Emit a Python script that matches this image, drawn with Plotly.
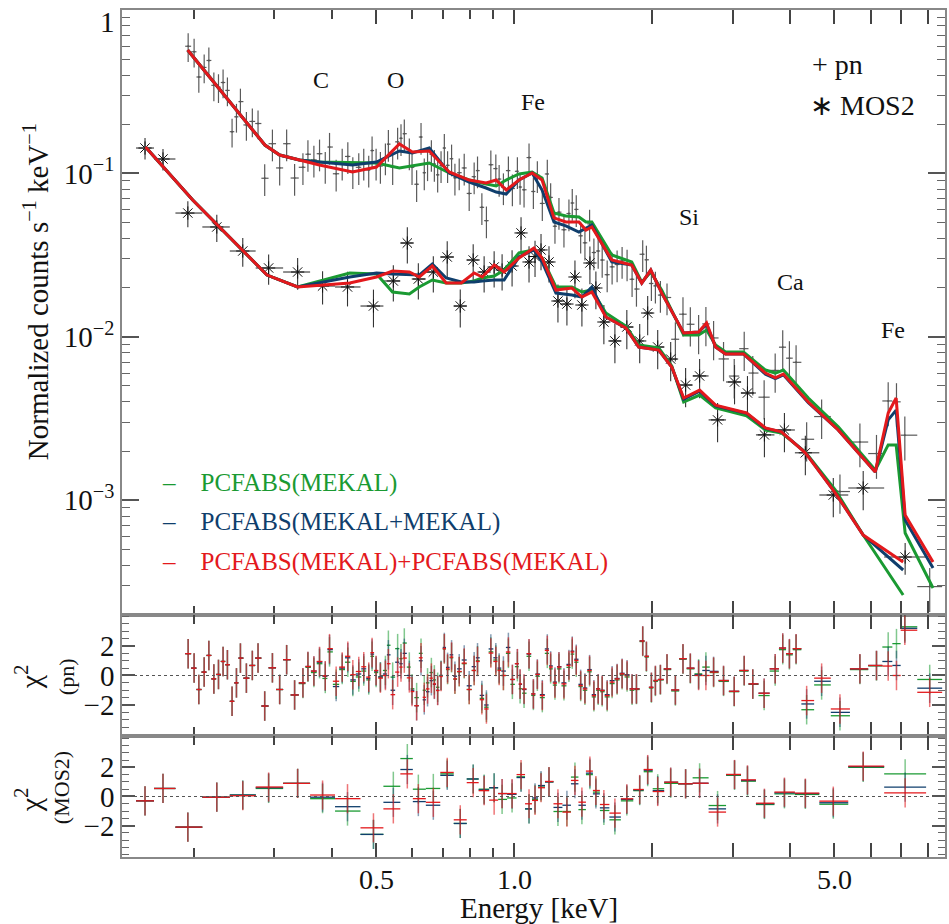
import numpy as np
import plotly.graph_objects as go

# ------------------------------------------------------------------ data
# pn spectrum (energy keV, normalized counts s^-1 keV^-1, relative error %)
pn_E = [0.1945, 0.2004, 0.2052, 0.2108, 0.2158, 0.2213, 0.2265, 0.2318, 0.2369, 0.2425,
        0.2479, 0.2529, 0.2606, 0.2685, 0.2763, 0.2857, 0.2970, 0.3080, 0.3190, 0.3320,
        0.3462, 0.3550, 0.3658, 0.3763, 0.3873, 0.3957, 0.4091, 0.4217, 0.4338, 0.4448,
        0.4583, 0.4699, 0.4818, 0.4900, 0.5000, 0.5109, 0.5239, 0.5318, 0.5434, 0.5571,
        0.5666, 0.5761, 0.5908, 0.5989, 0.6129, 0.6266, 0.6369, 0.6475, 0.6600, 0.6700,
        0.6812, 0.6929, 0.7044, 0.7160, 0.7305, 0.7429, 0.7591, 0.7784, 0.7981, 0.8183,
        0.8322, 0.8506, 0.8703, 0.8898, 0.9124, 0.9277, 0.9478, 0.9718, 0.9915, 1.0167,
        1.0306, 1.0514, 1.0780, 1.1018, 1.1240, 1.1524, 1.1816, 1.2017, 1.2280, 1.2529,
        1.2847, 1.3173, 1.3395, 1.3667, 1.3972, 1.4275, 1.4613, 1.4932, 1.5258, 1.5568,
        1.5963, 1.6364, 1.6780, 1.7206, 1.7642, 1.8090, 1.8492, 1.9083, 1.9441, 1.9934,
        2.0339, 2.0856, 2.1560, 2.2486, 2.3362, 2.4240, 2.5270, 2.6213, 2.7245, 2.8642,
        3.0221, 3.1775, 3.3174, 3.5121, 3.7124, 3.8557, 3.9875, 4.1235, 4.3482, 4.6881,
        5.1404, 5.6822, 6.1757, 6.5497, 6.8284, 7.1209, 8.0688]
pn_rate = [0.600, 0.555, 0.389, 0.445, 0.491, 0.346, 0.337, 0.360, 0.322, 0.180,
           0.222, 0.275, 0.198, 0.208, 0.202, 0.0934, 0.152, 0.108, 0.152, 0.0937,
           0.109, 0.131, 0.121, 0.132, 0.111, 0.145, 0.0995, 0.116, 0.127, 0.103,
           0.109, 0.116, 0.105, 0.138, 0.116, 0.111, 0.125, 0.151, 0.109, 0.156,
           0.164, 0.175, 0.134, 0.109, 0.0858, 0.167, 0.101, 0.115, 0.131, 0.114,
           0.098, 0.112, 0.143, 0.112, 0.123, 0.094, 0.101, 0.108, 0.0754, 0.0955,
           0.104, 0.062, 0.0514, 0.113, 0.107, 0.0923, 0.082, 0.104, 0.0808, 0.103,
           0.0825, 0.0794, 0.125, 0.0775, 0.0972, 0.0655, 0.0992, 0.0713, 0.0475, 0.0579,
           0.0452, 0.0568, 0.0659, 0.0602, 0.0415, 0.0376, 0.0491, 0.0328, 0.0335, 0.0295,
           0.0240, 0.0268, 0.0277, 0.0291, 0.0280, 0.0225, 0.0196, 0.0320, 0.0296, 0.0212,
           0.0205, 0.0180, 0.0174, 0.00966, 0.01375, 0.01193, 0.0107, 0.0120, 0.00984, 0.00732,
           0.00575, 0.00846, 0.00600, 0.00427, 0.00623, 0.00864, 0.00740, 0.00698, 0.00236, 0.00325,
           0.00113, 0.00227, 0.00193, 0.00405, 0.00400, 0.00250, 0.000296]
pn_err_pct = [20, 20, 20, 20, 20, 20, 20, 20, 20, 20,
              20, 20, 20, 20, 20, 22, 22, 22, 22, 22,
              22, 22, 22, 22, 22, 22, 22, 22, 22, 22,
              22, 22, 22, 22, 22, 22, 22, 22, 22, 22,
              22, 22, 22, 22, 22, 22, 22, 22, 22, 22,
              22, 22, 22, 22, 22, 22, 22, 22, 22, 22,
              22, 22, 22, 22, 22, 22, 22, 22, 22, 22,
              22, 22, 22, 22, 22, 22, 22, 22, 22, 22,
              22, 22, 22, 22, 22, 22, 22, 22, 22, 22,
              22, 22, 22, 22, 22, 22, 22, 22, 22, 22,
              22, 22, 22, 27, 27, 27, 27, 27, 27, 27,
              27, 27, 27, 27, 27, 27, 27, 27, 27, 27,
              27, 30, 30, 30, 30, 30, 30]

# pn residuals (chi) for the three models
pn_chi_green = [1.48, 0.5, -0.95, 0.23, 1.36, -0.23, 0.07, 0.95, 0.73, -1.75,
                -0.5, 1.18, -0.18, 0.68, 1.18, -2.07, 0.52, -0.95, 1.07, -1.32,
                -0.55, 0.55, 0.2, 0.8, -0.2, 1.6, -0.6, 0.4, 0.9, -0.4,
                -0.1, 0.3, -0.3, 1.3, 0.2, -0.1, 0.34, 2.05, -0.11, 1.82,
                1.14, 2.2, 0.57, -0.9, -1.5, 1.5, -1.0, -0.5, 0.2, -0.3,
                -0.8, 0.0, 1.8, 0.4, 1.2, -0.25, 0.25, 0.8, -0.95, 0.34,
                1.0, -1.55, -2.15, 1.6, 1.05, 0.4, 0.0, 1.5, -0.6, 0.6,
                -0.9, -1.2, 1.3, -1.35, -0.05, -1.5, 1.5, 0.45, -0.65, 0.45,
                -0.7, 0.55, 1.45, 0.9, -0.75, -1.0, 0.25, -1.45, -1.0, -1.1,
                -1.45, -0.55, -0.3, 0.05, -0.1, -1.0, -0.95, 2.3, 1.25, -0.85,
                -0.4, -0.3, 0.4, -1.05, 1.1, 0.45, 0.11, 0.57, 0.2, -0.4,
                -1.1, 0.3, -0.6, -1.36, 0.3, 1.75, 1.4, 1.75, -2.32, -0.64,
                -2.73, 0.4, 0.65, 1.93, 2.16, 3.3, -0.27]
pn_chi_blue = [1.48, 0.5, -0.95, 0.23, 1.36, -0.23, 0.07, 0.95, 0.73, -1.75,
               -0.5, 1.18, -0.18, 0.68, 1.18, -2.07, 0.52, -0.95, 1.07, -1.32,
               -0.5, 0.61, 0.3, 0.9, -0.05, 1.75, -0.75, 0.5, 1.2, -0.3,
               0.1, 0.45, -0.2, 1.45, 0.3, -0.1, 0.1, 1.4, -1.0, 0.9,
               0.8, 1.5, 0.0, -1.0, -2.05, 1.0, -1.65, -1.1, -0.35, -0.6,
               -1.0, 0.0, 1.9, 0.55, 1.4, -0.05, 0.45, 1.05, -0.7, 0.6,
               1.2, -1.35, -2.0, 1.8, 1.2, 0.5, 0.3, 1.9, -0.27, 0.8,
               -0.6, -0.95, 1.45, -1.25, 0.1, -1.3, 1.8, 0.65, -0.45, 0.6,
               -0.5, 0.75, 1.65, 1.1, -0.6, -0.85, 0.4, -1.3, -0.9, -1.0,
               -1.3, -0.35, -0.2, 0.15, 0.05, -0.9, -0.9, 2.35, 1.3, -0.8,
               -0.34, -0.27, 0.45, -0.98, 1.14, 0.5, 0.05, 0.34, 0.28, -0.34,
               -1.07, 0.34, -0.57, -1.2, 0.45, 1.86, 1.48, 1.82, -1.93, -0.39,
               -2.5, 0.45, 0.68, 0.95, 0.68, 3.2, -0.86]
pn_chi_red = [1.48, 0.5, -0.95, 0.23, 1.36, -0.23, 0.07, 0.95, 0.73, -1.75,
              -0.5, 1.18, -0.18, 0.68, 1.18, -2.07, 0.52, -0.95, 1.07, -1.32,
              -0.5, 0.61, 0.3, 0.95, -0.02, 1.82, -0.39, 0.57, 1.3, 0.05,
              0.27, 0.59, -0.11, 1.55, 0.34, -0.18, 0.0, 0.8, -1.3, 0.23,
              0.57, 1.18, -0.16, -1.09, -2.05, 1.2, -1.48, -0.91, -0.18, -0.57,
              -1.02, -0.07, 1.82, 0.45, 1.25, -0.23, 0.27, 0.84, -0.95, 0.34,
              0.95, -1.64, -2.27, 1.52, 0.95, 0.34, 0.0, 1.59, -0.27, 0.8,
              -0.57, -0.91, 1.48, -1.25, 0.07, -1.36, 1.7, 0.57, -0.52, 0.57,
              -0.57, 0.68, 1.59, 1.02, -0.68, -0.91, 0.34, -1.36, -0.91, -1.02,
              -1.36, -0.45, -0.23, 0.11, 0.0, -0.91, -0.91, 2.34, 1.3, -0.8,
              -0.34, -0.27, 0.45, -0.98, 1.14, 0.5, 0.0, 0.0, 0.23, -0.34,
              -1.07, 0.34, -0.57, -1.2, 0.45, 1.86, 1.48, 1.82, -1.7, -0.18,
              -2.27, 0.45, 0.68, 0.64, 0.0, 3.07, -1.14]

# MOS2 spectrum
mos_E = [0.1566, 0.1714, 0.1942, 0.2246, 0.2559, 0.2914, 0.3371, 0.3821, 0.4331, 0.4934,
         0.5452, 0.5849, 0.6182, 0.6665, 0.7147, 0.7631, 0.8143, 0.8603, 0.9047, 0.9416,
         0.9900, 1.0356, 1.0780, 1.1110, 1.1449, 1.1917, 1.2465, 1.3040, 1.3577, 1.4060,
         1.4637, 1.5083, 1.5700, 1.6595, 1.7620, 1.8796, 1.9565, 2.0576, 2.1962, 2.3674,
         2.5397, 2.7797, 3.0269, 3.2300, 3.5171, 3.8891, 4.3201, 4.9710, 5.7770, 7.1317]
mos_rate = [0.1430, 0.1225, 0.0572, 0.0470, 0.0335, 0.02637, 0.02492, 0.02046, 0.02018, 0.01543,
            0.02196, 0.0375, 0.02258, 0.02492, 0.03079, 0.01543, 0.02951, 0.02492, 0.02674, 0.02563,
            0.02712, 0.0432, 0.02870, 0.0310, 0.0340, 0.02870, 0.01656, 0.01587, 0.02323, 0.01565,
            0.02829, 0.01989, 0.01232, 0.00943, 0.01148, 0.00943, 0.01398, 0.00866, 0.00731, 0.00507,
            0.00576, 0.00310, 0.00529, 0.00453, 0.00251, 0.00269, 0.00195, 0.001076, 0.001188, 0.000449]
mos_err_pct = [15, 15, 18, 19, 20, 21, 22, 23, 24, 26,
               25, 25, 25, 25, 25, 26, 25, 25, 25, 25,
               25, 25, 25, 25, 25, 25, 26, 26, 26, 26,
               26, 26, 27, 27, 27, 27, 27, 27, 27, 27,
               27, 27, 27, 27, 27, 27, 27, 27, 27, 22]
mos_chi_green = [-0.3, 0.55, -2.1, -0.05, 0.1, 0.55, 0.9, -0.15, -1.0, -2.6,
                 0.7, 2.6, 0.5, 0.55, 1.55, -1.85, 1.2, 0.5, 0.6, -0.2,
                 -0.1, 1.35, -0.85, -0.2, 0.65, 1.0, -1.03, -1.03, 1.33, -0.9,
                 1.5, 0.3, -0.96, -1.6, -0.3, 0.4, 1.7, 0.53, 0.9, 0.87,
                 1.28, -0.62, 1.45, 1.05, -0.55, 0.18, 0.14, -0.53, 2.0, 1.55]
mos_chi_blue = [-0.3, 0.55, -2.1, -0.05, 0.1, 0.6, 0.9, -0.05, -0.7, -2.6,
                -0.4, 1.85, -0.35, -0.6, 1.45, -1.85, 1.2, 0.45, 0.6, 0.2,
                0.15, 1.3, -0.85, -0.1, 0.75, 1.0, -0.75, -0.6, 0.87, -0.6,
                1.6, 0.18, -0.78, -1.41, -0.2, 0.45, 1.8, 0.4, 0.98, 0.87,
                0.91, -0.85, 1.5, 1.1, -0.5, 0.25, 0.2, -0.43, 2.05, 0.64]
mos_chi_red = [-0.3, 0.55, -2.1, -0.05, 0.05, 0.65, 0.9, 0.1, -0.15, -2.15,
               -0.85, 1.55, -0.15, -0.4, 1.65, -1.6, 0.95, 0.4, -0.25, 0.2,
               0.2, 1.5, -0.5, -0.27, 0.6, 1.03, -0.5, -1.07, 1.1, -0.39,
               1.74, 0.41, -0.55, -1.14, -0.16, 0.48, 1.85, 0.34, 0.98, 0.87,
               0.91, -1.07, 1.51, 1.14, -0.46, 0.3, 0.23, -0.32, 2.08, 0.25]

# folded model curves (pn)
model_pn_E = [0.194, 0.286, 0.308, 0.340, 0.376, 0.444, 0.501, 0.562, 0.600, 0.653,
              0.722, 0.798, 0.869, 0.914, 0.961, 1.025, 1.095, 1.151, 1.222, 1.297,
              1.385, 1.435, 1.478, 1.634, 1.806, 1.899, 1.987, 2.100, 2.344, 2.527,
              2.630, 2.752, 2.893, 3.166, 3.535, 3.716, 3.868, 4.385, 5.096, 6.138,
              6.550, 6.817, 7.132, 8.204]
model_pn_green = [0.569, 0.1492, 0.1296, 0.1208, 0.1174, 0.1158, 0.1158, 0.1079, 0.1110, 0.1158,
                  0.1006, 0.0911, 0.0861, 0.0837, 0.0911, 0.0992, 0.1020, 0.0937, 0.0572, 0.0549,
                  0.0541, 0.0504, 0.0504, 0.0317, 0.0287, 0.0216, 0.0249, 0.0193, 0.01026, 0.01026,
                  0.0110, 0.00891, 0.00807, 0.00807, 0.00626, 0.00600, 0.00626, 0.00422, 0.00281, 0.00153,
                  0.00218, 0.00218, 0.000630, 0.000290]
model_pn_blue = [0.569, 0.1492, 0.1296, 0.1208, 0.1174, 0.1125, 0.1174, 0.1371, 0.1333, 0.1430,
                 0.1006, 0.0886, 0.0814, 0.0769, 0.0748, 0.0911, 0.1006, 0.0791, 0.0504, 0.0477,
                 0.0438, 0.0463, 0.0483, 0.0287, 0.0275, 0.0213, 0.0256, 0.0185, 0.01055, 0.01070,
                 0.01190, 0.00866, 0.00785, 0.00785, 0.00590, 0.00555, 0.00585, 0.00395, 0.00269, 0.00149,
                 0.00310, 0.00356, 0.000756, 0.000385]
model_pn_red = [0.569, 0.1492, 0.1296, 0.1208, 0.1125, 0.1020, 0.1094, 0.1513, 0.1352, 0.1371,
                0.1020, 0.0911, 0.0873, 0.0911, 0.0791, 0.0911, 0.1006, 0.0911, 0.0534, 0.0504,
                0.0504, 0.0450, 0.0470, 0.0295, 0.0275, 0.0213, 0.0256, 0.0185, 0.01055, 0.01070,
                0.01215, 0.00866, 0.00785, 0.00785, 0.00600, 0.00560, 0.00592, 0.00399, 0.00269, 0.00149,
                0.00342, 0.00422, 0.000811, 0.000418]

# folded model curves (MOS2)
model_mos_E = [0.157, 0.199, 0.289, 0.337, 0.438, 0.501, 0.543, 0.591, 0.621, 0.663,
               0.711, 0.767, 0.818, 0.852, 0.905, 0.951, 1.025, 1.105, 1.151, 1.234,
               1.337, 1.406, 1.478, 1.586, 1.753, 1.871, 2.068, 2.208, 2.344, 2.540,
               2.752, 3.215, 3.535, 3.830, 4.320, 5.020, 5.777, 7.061]
model_mos_green = [0.1450, 0.0687, 0.02388, 0.02018, 0.02458, 0.02424, 0.01880, 0.01828, 0.02018, 0.02227,
                   0.02135, 0.02135, 0.02196, 0.02290, 0.02356, 0.02563, 0.03258, 0.03398, 0.03036, 0.02018,
                   0.02018, 0.01880, 0.01934, 0.01398, 0.01164, 0.00891, 0.00854, 0.00663, 0.00399, 0.00440,
                   0.00367, 0.00328, 0.00269, 0.00258, 0.00197, 0.001155, 0.000612, 0.000263]
model_mos_blue = [0.1450, 0.0687, 0.02388, 0.02018, 0.02323, 0.02458, 0.02424, 0.02388, 0.02388, 0.02789,
                  0.02290, 0.02165, 0.02165, 0.02196, 0.02227, 0.02227, 0.03079, 0.03398, 0.02870, 0.01853,
                  0.01802, 0.01752, 0.02018, 0.01322, 0.01132, 0.00866, 0.00830, 0.00653, 0.00415, 0.00465,
                  0.00378, 0.00340, 0.00275, 0.00262, 0.00196, 0.00111, 0.000612, 0.000374]
model_mos_red = [0.1450, 0.0687, 0.02388, 0.02018, 0.02135, 0.02323, 0.02527, 0.02492, 0.02323, 0.02712,
                 0.02135, 0.02135, 0.02458, 0.02323, 0.02750, 0.02492, 0.03036, 0.03496, 0.03036, 0.01934,
                 0.01989, 0.01752, 0.01880, 0.01322, 0.01132, 0.00866, 0.00830, 0.00653, 0.00422, 0.00472,
                 0.00382, 0.00342, 0.00277, 0.00262, 0.00195, 0.00111, 0.000612, 0.000418]

model_names = ["PCFABS(MEKAL)", "PCFABS(MEKAL+MEKAL)", "PCFABS(MEKAL)+PCFABS(MEKAL)"]
line_labels = ["C", "O", "Fe", "Si", "Ca", "Fe"]
x_major = [0.5, 1, 2, 3, 4, 5, 6, 7, 8]
x_label_vals = [0.5, 1.0, 5.0]
x_label_text = ["0.5", "1.0", "5.0"]
x_minor = [0.2, 0.3, 0.4, 0.6, 0.7, 0.8, 0.9]
y_major = [1e-1, 1e-2, 1e-3]
y_major_text = ["10<sup>\u22121</sup>", "10<sup>\u22122</sup>", "10<sup>\u22123</sup>"]
chi_ticks = [-2, 0, 2]
chi_text = ["\u22122", "0", "2"]

# ------------------------------------------------------------------ style
FONT = "Liberation Serif"
C_GREEN = "#1a9a32"
C_BLUE = "#0f3e6c"
C_RED = "#e3191c"
RGBA = {C_GREEN: "rgba(26,154,50,0.55)", C_BLUE: "rgba(15,62,108,0.5)", C_RED: "rgba(227,25,28,0.6)"}
AX = "#888888"


def bin_halfwidths(E):
    le = np.log10(np.asarray(E, float))
    mids = (le[1:] + le[:-1]) / 2
    left = np.concatenate([[2 * le[0] - mids[0]], mids])
    right = np.concatenate([mids, [2 * le[-1] - mids[-1]]])
    e = 10 ** le
    return e - 10 ** left, 10 ** right - e


pn_lo, pn_hi = bin_halfwidths(pn_E)
mos_lo, mos_hi = bin_halfwidths(mos_E)
pn_err = np.asarray(pn_rate) * np.asarray(pn_err_pct) / 100.0
mos_err = np.asarray(mos_rate) * np.asarray(mos_err_pct) / 100.0

fig = go.Figure()

# data: pn (crosses)
fig.add_trace(go.Scatter(
    x=pn_E, y=pn_rate, mode="markers", xaxis="x", yaxis="y",
    marker=dict(size=2, color="#555555"),
    error_y=dict(type="data", array=pn_err, color="#5a5a5a", thickness=1.2, width=0),
    error_x=dict(type="data", array=pn_hi, arrayminus=pn_lo, color="#5a5a5a", thickness=1.2, width=0),
    showlegend=False))
# data: MOS2 (asterisks)
fig.add_trace(go.Scatter(
    x=mos_E, y=mos_rate, mode="markers", xaxis="x", yaxis="y",
    marker=dict(size=11, symbol="asterisk-open", color="#111111", line=dict(color="#111111", width=1)),
    error_y=dict(type="data", array=mos_err, color="#333333", thickness=1.1, width=0),
    error_x=dict(type="data", array=mos_hi, arrayminus=mos_lo, color="#333333", thickness=1.1, width=0),
    showlegend=False))

models = [
    (C_GREEN, model_pn_green, model_mos_green, pn_chi_green, mos_chi_green),
    (C_BLUE, model_pn_blue, model_mos_blue, pn_chi_blue, mos_chi_blue),
    (C_RED, model_pn_red, model_mos_red, pn_chi_red, mos_chi_red),
]
for col, mpn, mmos, cpn, cmos in models:
    fig.add_trace(go.Scatter(x=model_pn_E, y=mpn, mode="lines", xaxis="x", yaxis="y",
                             line=dict(color=col, width=3), showlegend=False))
    fig.add_trace(go.Scatter(x=model_mos_E, y=mmos, mode="lines", xaxis="x", yaxis="y",
                             line=dict(color=col, width=3), showlegend=False))

# residual panels
for col, mpn, mmos, cpn, cmos in models:
    fig.add_trace(go.Scatter(
        x=pn_E, y=cpn, mode="markers", xaxis="x2", yaxis="y2",
        marker=dict(size=1, color=col),
        error_y=dict(type="constant", value=1, color=RGBA[col], thickness=1.5, width=0),
        error_x=dict(type="data", array=pn_hi, arrayminus=pn_lo, color=col, thickness=1.3, width=0),
        showlegend=False))
    fig.add_trace(go.Scatter(
        x=mos_E, y=cmos, mode="markers", xaxis="x3", yaxis="y3",
        marker=dict(size=1, color=col),
        error_y=dict(type="constant", value=1, color=RGBA[col], thickness=1.5, width=0),
        error_x=dict(type="data", array=mos_hi, arrayminus=mos_lo, color=col, thickness=1.3, width=0),
        showlegend=False))

for yr in ["y2", "y3"]:
    fig.add_shape(type="line", xref="x domain", x0=0, x1=1,
                  yref=yr, y0=0, y1=0, line=dict(color="#555555", width=1.2, dash="dot"))

XR = [np.log10(0.1395), np.log10(8.713)]
xbase = dict(type="log", range=XR, tickmode="array", tickvals=x_major,
             ticks="inside", ticklen=14, tickwidth=1.5, tickcolor="#444444",
             minor=dict(tickmode="array", tickvals=x_minor, ticks="inside", ticklen=9,
                        tickwidth=1.5, tickcolor="#444444"),
             showline=True, linecolor=AX, linewidth=1.5, mirror="ticks", showgrid=False, zeroline=False,
             showticklabels=False)
ybase = dict(showline=True, linecolor=AX, linewidth=1.5, mirror="ticks", showgrid=False, zeroline=False,
             ticks="inside", tickcolor="#555555", tickwidth=1.5,
             tickfont=dict(family=FONT, size=29, color="#111111"))

y_minor = [m * 10.0 ** k for k in (-4, -3, -2, -1) for m in range(2, 10)]

fig.update_layout(
    width=949, height=924, margin=dict(l=122, r=2, t=10, b=67),
    paper_bgcolor="white", plot_bgcolor="white",
    font=dict(family=FONT, color="#111111"),
    xaxis=dict(xbase, domain=[0, 1], anchor="y"),
    xaxis2=dict(xbase, domain=[0, 1], anchor="y2", matches="x"),
    xaxis3=dict(xbase, domain=[0, 1], anchor="y3", matches="x"),
    yaxis=dict(ybase, domain=[0.2857, 1], type="log", range=[-3.7026, 0],
               tickmode="array", tickvals=y_major, ticktext=y_major_text, ticklen=17,
               minor=dict(tickmode="array", tickvals=y_minor, ticks="inside", ticklen=8,
                          tickwidth=1.3, tickcolor="#666666")),
    yaxis2=dict(ybase, domain=[0.1429, 0.2857], range=[-4.1, 4.1], tickmode="array",
                tickvals=chi_ticks, ticktext=chi_text, ticklen=13,
                minor=dict(dtick=0.5, ticks="inside", ticklen=7, tickwidth=1.3, tickcolor="#666666")),
    yaxis3=dict(ybase, domain=[0, 0.1429], range=[-4.15, 4.15], tickmode="array",
                tickvals=chi_ticks, ticktext=chi_text, ticklen=13,
                minor=dict(dtick=0.5, ticks="inside", ticklen=7, tickwidth=1.3, tickcolor="#666666")),
)


def px(xp):
    return (xp - 122) / 825.0


def py(yp):
    return 1 - (yp - 10) / 847.0


ann = []
# energy tick labels (placed on the log axis scale)
for v, t in zip(x_label_vals, x_label_text):
    ann.append(dict(text=t, x=(np.log10(v) - XR[0]) / (XR[1] - XR[0]), y=py(879), font=dict(size=28)))
# element labels
for lab, xp, yp in zip(line_labels, [321, 396, 534, 690, 792, 895], [80, 80, 102, 217, 282, 330]):
    ann.append(dict(text=lab, x=px(xp), y=py(yp), font=dict(size=24)))
# detector keys
ann.append(dict(text="+ pn", x=px(812), y=py(64), xanchor="left", font=dict(size=28)))
ann.append(dict(text="\u2217 MOS2", x=px(810), y=py(105), xanchor="left", font=dict(size=28)))
# model keys
for name, col, yp in zip(model_names, [C_GREEN, C_BLUE, C_RED], [483, 522, 562]):
    ann.append(dict(text="\u2013\u2002\u2002" + name, x=px(160), y=py(yp), xanchor="left",
                    font=dict(size=25, color=col)))
# axis titles
ann.append(dict(text="Normalized counts s<sup>\u22121</sup> keV<sup>\u22121</sup>", x=px(36), y=py(292),
                textangle=-90, font=dict(size=29)))
ann.append(dict(text="\u03c7<sup>2</sup>", x=px(28), y=py(677), textangle=-90, font=dict(size=30)))
ann.append(dict(text="(pn)", x=px(66), y=py(677), textangle=-90, font=dict(size=22)))
ann.append(dict(text="\u03c7<sup>2</sup>", x=px(28), y=py(800), textangle=-90, font=dict(size=30)))
ann.append(dict(text="(MOS2)", x=px(61), y=py(788), textangle=-90, font=dict(size=22)))
ann.append(dict(text="Energy [keV]", x=px(540), y=py(908), font=dict(size=29)))
ann.append(dict(text="1", x=px(107), y=py(22), font=dict(size=29)))

for a in ann:
    a.setdefault("xanchor", "center")
    a.update(xref="paper", yref="paper", showarrow=False, yanchor="middle")
    f = a["font"]
    f.setdefault("color", "#111111")
    f["family"] = FONT
fig.update_layout(annotations=ann)

fig.write_html("out.html")
